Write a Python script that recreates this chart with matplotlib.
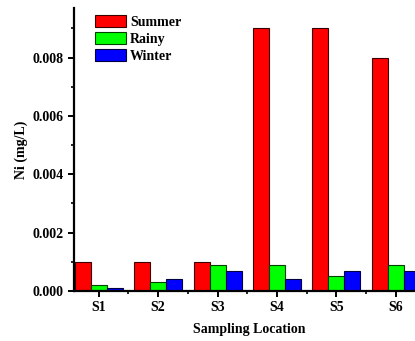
import matplotlib
matplotlib.use("Agg")
import matplotlib.pyplot as plt
import numpy as np
from matplotlib.ticker import MultipleLocator, FixedLocator

plt.rcParams['font.family'] = ['Liberation Serif', 'DejaVu Serif']
plt.rcParams['font.weight'] = 'bold'

categories = ["S1", "S2", "S3", "S4", "S5", "S6"]
summer = [0.001, 0.001, 0.001, 0.009, 0.009, 0.008]
rainy = [0.0002, 0.0003, 0.0009, 0.0009, 0.0005, 0.0009]
winter = [0.0001, 0.0004, 0.0007, 0.0004, 0.0007, 0.0007]

fig = plt.figure(figsize=(4.15, 3.41), dpi=100)
ax = fig.add_axes([0.178, 0.1466, 0.847, 0.83])

x = np.arange(1, len(categories) + 1)
w = 0.27
ax.bar(x - w, summer, w, color='#ff0000', edgecolor='#3a0000', linewidth=0.8, label='Summer')
ax.bar(x, rainy, w, color='#00ff00', edgecolor='#004000', linewidth=0.8, label='Rainy')
ax.bar(x + w, winter, w, color='#0000ff', edgecolor='#000040', linewidth=0.8, label='Winter')

ax.set_xlim(0.58, 6.5)
ax.set_ylim(0, 0.0097)
ax.set_xticks(x)
ax.set_xticklabels(categories)
ax.xaxis.set_minor_locator(FixedLocator(x[:-1] + 0.5))
ax.yaxis.set_major_locator(MultipleLocator(0.002))
ax.yaxis.set_minor_locator(MultipleLocator(0.001))
ax.yaxis.set_major_formatter(matplotlib.ticker.FormatStrFormatter('%.3f'))

for s in ['top', 'right']:
    ax.spines[s].set_visible(False)
for s in ['left', 'bottom']:
    ax.spines[s].set_linewidth(1.6)

ax.tick_params(axis='both', which='major', direction='out', length=4, width=1.4, labelsize=10)
ax.tick_params(axis='both', which='minor', direction='out', length=2.5, width=1.2)
for lab in ax.get_xticklabels() + ax.get_yticklabels():
    lab.set_fontweight('bold')

ax.set_xlabel('Sampling Location', fontsize=10, fontweight='bold', labelpad=6)
ax.set_ylabel('Ni (mg/L)', fontsize=10, fontweight='bold', labelpad=3)

leg = ax.legend(loc='upper left', bbox_to_anchor=(0.035, 1.005), frameon=False,
                prop={'weight': 'bold', 'size': 10}, handlelength=2.3, handleheight=0.95,
                handletextpad=0.25, labelspacing=0.25, borderaxespad=0.2)

fig.savefig('out.png', dpi=100)
